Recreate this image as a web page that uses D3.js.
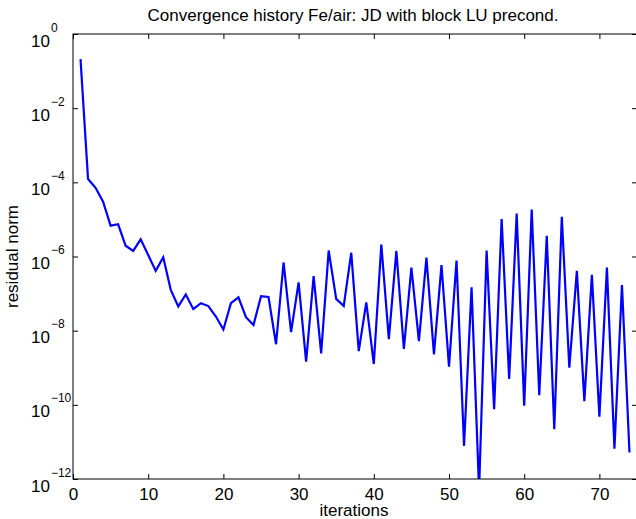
<!DOCTYPE html>
<html>
<head>
<meta charset="utf-8">
<script src="https://cdn.jsdelivr.net/npm/d3@7"></script>
<style>
  body { margin: 0; background: #fff; }
  text { font-family: "Liberation Sans", Arial, sans-serif; fill: #000; }
</style>
</head>
<body>
<svg id="chart"></svg>
<script>
// iteration numbers and residual norms
const iterations = d3.range(1, 75);
const residuals = [
  2.1e-1, 1.23e-4, 7.1e-5, 3.0e-5, 6.8e-6, 7.4e-6, 1.95e-6, 1.41e-6, 2.9e-6, 1.1e-6,
  4.1e-7, 9.5e-7, 1.26e-7, 4.5e-8, 9.5e-8, 3.8e-8, 5.5e-8, 4.6e-8, 2.4e-8, 1.07e-8,
  5.5e-8, 7.9e-8, 2.3e-8, 1.41e-8, 8.5e-8, 8.1e-8, 4.3e-9, 6.9e-7, 9.1e-9, 2.0e-7,
  1.45e-9, 2.95e-7, 2.45e-9, 1.45e-6, 7.2e-8, 4.6e-8, 1.26e-6, 2.8e-9, 5.8e-8, 1.26e-9,
  2.1e-6, 5.9e-9, 1.41e-6, 3.2e-9, 5.0e-7, 5.2e-9, 9.3e-7, 2.3e-9, 5.9e-7, 1.07e-9,
  7.8e-7, 7.8e-12, 1.48e-7, 5e-13, 1.45e-6, 7.6e-11, 1.02e-5, 5.0e-10, 1.45e-5, 9.5e-11,
  1.86e-5, 1.82e-10, 3.6e-6, 2.2e-11, 1.17e-5, 1.0e-9, 4.1e-7, 1.26e-10, 3.2e-7, 4.8e-11,
  5.0e-7, 6.6e-12, 1.7e-7, 5.2e-12
];
const xTicks = [0, 10, 20, 30, 40, 50, 60, 70];
const yExponents = [0, -2, -4, -6, -8, -10, -12];

const width = 636, height = 519;
const margin = { top: 34, right: -1, bottom: 40, left: 73 };
const innerWidth = width - margin.left - margin.right;
const innerHeight = height - margin.top - margin.bottom;

const svg = d3.select("#chart")
    .attr("width", width)
    .attr("height", height);

const x = d3.scaleLinear().domain([0, 75]).range([0, innerWidth]);
const y = d3.scaleLog().domain([1e-12, 1]).range([innerHeight, 0]);

const g = svg.append("g")
    .attr("transform", `translate(${margin.left},${margin.top})`);

g.append("clipPath").attr("id", "clip")
  .append("rect").attr("width", innerWidth).attr("height", innerHeight);

// the residual curve
const line = d3.line()
    .x((d, i) => x(iterations[i]))
    .y(d => y(d));

g.append("path")
    .datum(residuals)
    .attr("clip-path", "url(#clip)")
    .attr("fill", "none")
    .attr("stroke", "#0000ff")
    .attr("stroke-width", 2.2)
    .attr("d", line);

// box
g.append("rect")
    .attr("width", innerWidth)
    .attr("height", innerHeight)
    .attr("fill", "none")
    .attr("stroke", "#000")
    .attr("stroke-width", 1);

// x ticks (inside, bottom and top)
const tickLen = 5;
const gx = g.append("g")
    .attr("transform", `translate(0,${innerHeight})`)
    .call(d3.axisBottom(x).tickValues(xTicks).tickSize(-tickLen).tickPadding(9));
gx.select(".domain").remove();
gx.selectAll("text").attr("font-size", 17).attr("font-family", "Liberation Sans, Arial, sans-serif");

const gxTop = g.append("g").call(d3.axisTop(x).tickValues(xTicks).tickSize(-tickLen));
gxTop.select(".domain").remove();
gxTop.selectAll("text").remove();

// y ticks (inside, left and right)
const yTickVals = yExponents.map(e => Math.pow(10, e));
const gy = g.append("g").call(d3.axisLeft(y).tickValues(yTickVals).tickSize(-tickLen));
gy.select(".domain").remove();
gy.selectAll("text").remove();
const gyRight = g.append("g")
    .attr("transform", `translate(${innerWidth},0)`)
    .call(d3.axisRight(y).tickValues(yTickVals).tickSize(-tickLen));
gyRight.select(".domain").remove();
gyRight.selectAll("text").remove();

// y tick labels as 10 with superscript exponent
yExponents.forEach(e => {
  const yy = y(Math.pow(10, e));
  const t = g.append("text")
      .attr("x", -42)
      .attr("y", yy + 12.5)
      .attr("font-size", 17);
  t.append("tspan").text("10");
  t.append("tspan")
      .attr("font-size", 12)
      .attr("dx", 1)
      .attr("dy", -15)
      .text(e === 0 ? "0" : "\u2212" + (-e));
});

// labels
svg.append("text")
    .attr("x", 353)
    .attr("y", 21)
    .attr("text-anchor", "middle")
    .attr("font-size", 17)
    .text("Convergence history Fe/air: JD with block LU precond.");

svg.append("text")
    .attr("x", margin.left + x(75) / 2 - 1)
    .attr("y", 516)
    .attr("text-anchor", "middle")
    .attr("font-size", 17)
    .text("iterations");

svg.append("text")
    .attr("transform", `translate(18,${margin.top + innerHeight / 2}) rotate(-90)`)
    .attr("text-anchor", "middle")
    .attr("font-size", 17)
    .text("residual norm");
</script>
</body>
</html>
